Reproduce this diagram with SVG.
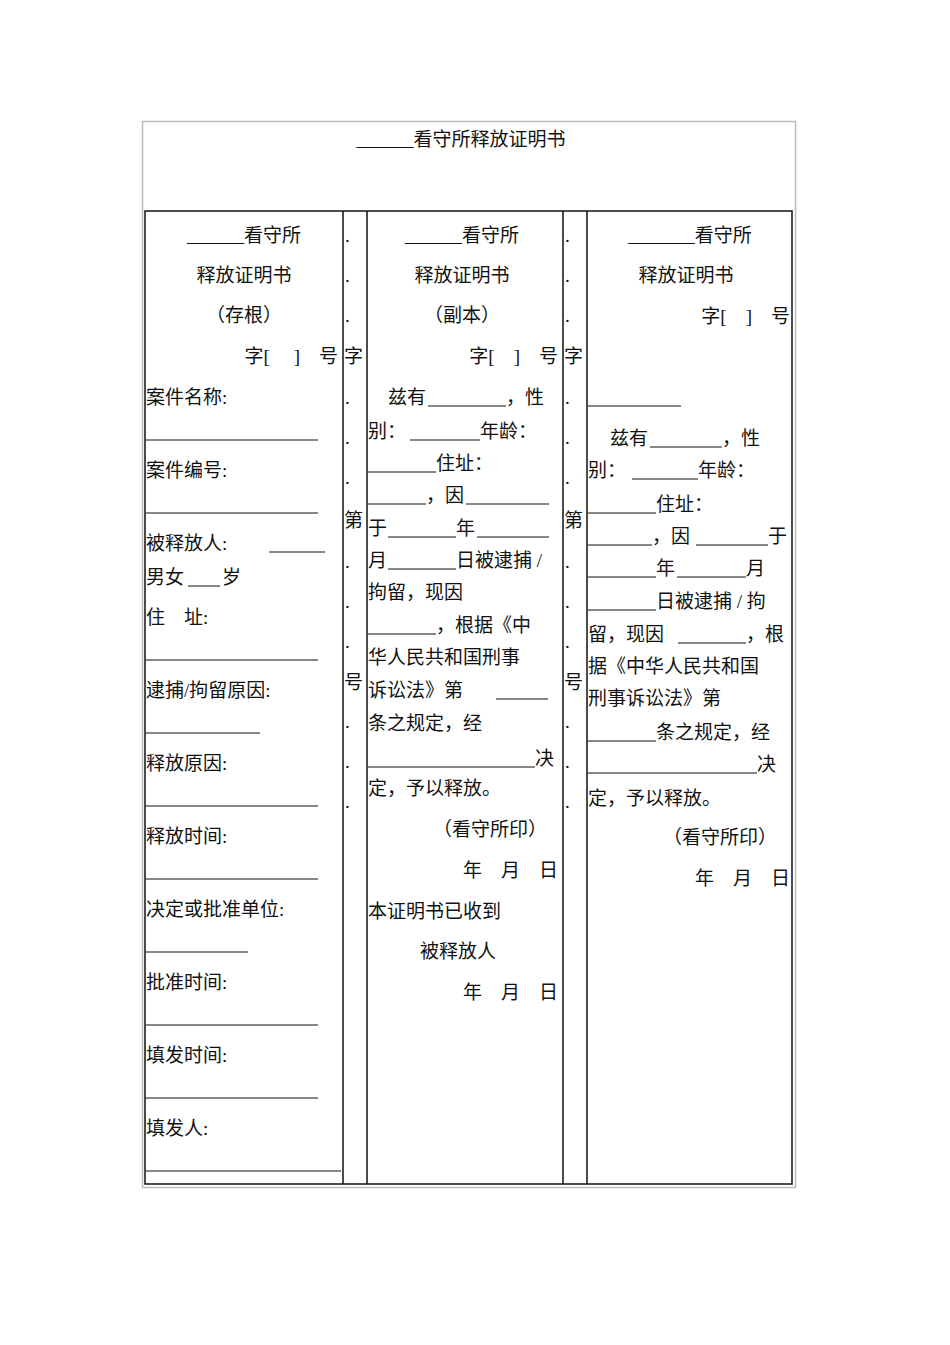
<svg xmlns="http://www.w3.org/2000/svg" width="950" height="1345" viewBox="0 0 950 1345">
<style>
text{font-family:"Liberation Serif","Noto Sans CJK SC",serif;font-size:19px;fill:#111}
.c{text-anchor:middle}.e{text-anchor:end}
.b{stroke:#111;stroke-width:1.5;fill:none}
.u{stroke:#111;stroke-width:1}
</style>
<rect x="0" y="0" width="950" height="1345" fill="#fff"/>
<g id="frame">
<rect x="142.5" y="121.5" width="653" height="1066" fill="none" stroke="#bbb" stroke-width="1.5"/>
<rect x="145" y="211" width="647" height="973" class="b" stroke-width="2"/>
<line x1="343" y1="211" x2="343" y2="1184" class="b"/>
<line x1="367" y1="211" x2="367" y2="1184" class="b"/>
<line x1="563" y1="211" x2="563" y2="1184" class="b"/>
<line x1="587" y1="211" x2="587" y2="1184" class="b"/>
</g>
<g id="title"><text x="461" y="146" class="c">______看守所释放证明书</text></g>
<g id="stub">
<text x="244" y="242" class="c">______看守所</text>
<text x="244" y="282" class="c">释放证明书</text>
<text x="244" y="322" class="c">（存根）</text>
<text x="338" y="363" class="e">字[　 ]　号</text>
<text x="146" y="404">案件名称:</text><line x1="146" y1="440" x2="318" y2="440" class="u"/>
<text x="146" y="477">案件编号:</text><line x1="146" y1="513" x2="318" y2="513" class="u"/>
<text x="146" y="550">被释放人:</text><line x1="269" y1="552" x2="325" y2="552" class="u"/>
<text x="146" y="584">男女</text><line x1="188" y1="586" x2="220" y2="586" class="u"/><text x="222" y="584">岁</text>
<text x="146" y="624">住　址:</text><line x1="146" y1="660" x2="318" y2="660" class="u"/>
<text x="146" y="697">逮捕/拘留原因:</text><line x1="146" y1="733" x2="260" y2="733" class="u"/>
<text x="146" y="770">释放原因:</text><line x1="146" y1="806" x2="318" y2="806" class="u"/>
<text x="146" y="843">释放时间:</text><line x1="146" y1="879" x2="318" y2="879" class="u"/>
<text x="146" y="916">决定或批准单位:</text><line x1="146" y1="952" x2="248" y2="952" class="u"/>
<text x="146" y="989">批准时间:</text><line x1="146" y1="1025" x2="318" y2="1025" class="u"/>
<text x="146" y="1062">填发时间:</text><line x1="146" y1="1098" x2="318" y2="1098" class="u"/>
<text x="146" y="1135">填发人:</text><line x1="146" y1="1171" x2="341" y2="1171" class="u"/>
</g>
<g id="seam1">
<text x="345" y="242">.</text><text x="345" y="282">.</text><text x="345" y="322">.</text>
<text x="344" y="363">字</text>
<text x="345" y="404">.</text><text x="345" y="444">.</text><text x="345" y="484">.</text>
<text x="344" y="527">第</text>
<text x="345" y="568">.</text><text x="345" y="608">.</text><text x="345" y="648">.</text>
<text x="344" y="689">号</text>
<text x="345" y="728">.</text><text x="345" y="768">.</text><text x="345" y="808">.</text>
</g>
<g id="copy">
<text x="462" y="242" class="c">______看守所</text>
<text x="462" y="282" class="c">释放证明书</text>
<text x="462" y="322" class="c">（副本）</text>
<text x="558" y="363" class="e">字[　]　号</text>
<text x="388" y="404">兹有</text><line x1="428" y1="406" x2="506" y2="406" class="u"/><text x="506" y="404">，性</text>
<text x="368" y="438">别：</text><line x1="410" y1="440" x2="480" y2="440" class="u"/><text x="480" y="438">年龄：</text>
<line x1="368" y1="472" x2="436" y2="472" class="u"/><text x="436" y="470">住址：</text>
<line x1="368" y1="504" x2="426" y2="504" class="u"/><text x="426" y="502">，因</text><line x1="466" y1="504" x2="549" y2="504" class="u"/>
<text x="368" y="535">于</text><line x1="388" y1="537" x2="456" y2="537" class="u"/><text x="456" y="535">年</text><line x1="477" y1="537" x2="549" y2="537" class="u"/>
<text x="368" y="567">月</text><line x1="388" y1="569" x2="456" y2="569" class="u"/><text x="456" y="567">日被逮捕 /</text>
<text x="368" y="599">拘留，现因</text>
<line x1="368" y1="634" x2="436" y2="634" class="u"/><text x="436" y="632">，根据《中</text>
<text x="368" y="664">华人民共和国刑事</text>
<text x="368" y="697">诉讼法》第</text><line x1="496" y1="699" x2="548" y2="699" class="u"/>
<text x="368" y="730">条之规定，经</text>
<line x1="368" y1="767" x2="535" y2="767" class="u"/><text x="535" y="765">决</text>
<text x="368" y="795">定，予以释放。</text>
<text x="490" y="836" class="c">（看守所印）</text>
<text x="558" y="877" class="e">年　月　日</text>
<text x="368" y="918">本证明书已收到</text>
<text x="420" y="958">被释放人</text>
<text x="558" y="999" class="e">年　月　日</text>
</g>
<g id="seam2">
<text x="565" y="242">.</text><text x="565" y="282">.</text><text x="565" y="322">.</text>
<text x="564" y="363">字</text>
<text x="565" y="404">.</text><text x="565" y="444">.</text><text x="565" y="484">.</text>
<text x="564" y="527">第</text>
<text x="565" y="568">.</text><text x="565" y="608">.</text><text x="565" y="648">.</text>
<text x="564" y="689">号</text>
<text x="565" y="728">.</text><text x="565" y="768">.</text><text x="565" y="808">.</text>
</g>
<g id="release">
<text x="690" y="242" class="c">_______看守所</text>
<text x="686" y="282" class="c">释放证明书</text>
<text x="790" y="323" class="e">字[　]　号</text>
<line x1="588" y1="406" x2="681" y2="406" class="u"/>
<text x="610" y="445">兹有</text><line x1="650" y1="447" x2="722" y2="447" class="u"/><text x="722" y="445">，性</text>
<text x="588" y="477">别：</text><line x1="632" y1="479" x2="698" y2="479" class="u"/><text x="698" y="477">年龄：</text>
<line x1="588" y1="513" x2="656" y2="513" class="u"/><text x="656" y="511">住址：</text>
<line x1="588" y1="545" x2="652" y2="545" class="u"/><text x="652" y="543">，因</text><line x1="696" y1="545" x2="768" y2="545" class="u"/><text x="768" y="543">于</text>
<line x1="588" y1="577" x2="656" y2="577" class="u"/><text x="656" y="575">年</text><line x1="677" y1="577" x2="746" y2="577" class="u"/><text x="746" y="575">月</text>
<line x1="588" y1="610" x2="656" y2="610" class="u"/><text x="656" y="608">日被逮捕 / 拘</text>
<text x="588" y="641">留，现因</text><line x1="678" y1="643" x2="746" y2="643" class="u"/><text x="746" y="641">，根</text>
<text x="588" y="673">据《中华人民共和国</text>
<text x="588" y="705">刑事诉讼法》第</text>
<line x1="588" y1="741" x2="656" y2="741" class="u"/><text x="656" y="739">条之规定，经</text>
<line x1="588" y1="773" x2="757" y2="773" class="u"/><text x="757" y="771">决</text>
<text x="588" y="805">定，予以释放。</text>
<text x="720" y="844" class="c">（看守所印）</text>
<text x="790" y="885" class="e">年　月　日</text>
</g>
</svg>
